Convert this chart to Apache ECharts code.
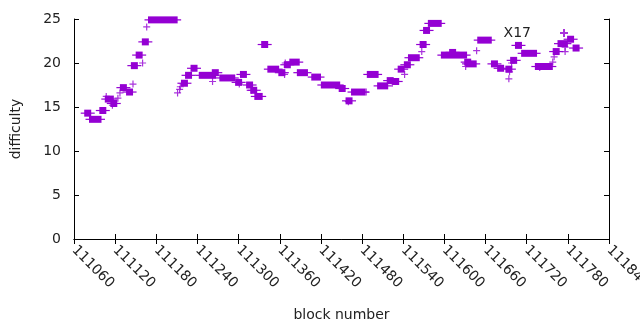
<!DOCTYPE html>
<html>
<head>
<meta charset="utf-8">
<script src="https://cdn.jsdelivr.net/npm/echarts@6/dist/echarts.min.js"></script>
<style>
  html, body { margin: 0; padding: 0; background: #fff; }
  #chart { width: 640px; height: 330px; }
</style>
</head>
<body>
<div id="chart"></div>
<script>
// runs of blocks drawn as filled squares: [first block, last block, difficulty]
var squareRuns = [
    [111080, 111080, 14.3], [111087, 111095, 13.6], [111102, 111102, 14.6],
    [111110, 111113, 15.9], [111118, 111118, 15.4], [111132, 111132, 17.2],
    [111141, 111141, 16.7], [111148, 111148, 19.7], [111155, 111155, 20.9],
    [111164, 111164, 22.4], [111173, 111206, 24.9], [111221, 111221, 17.7],
    [111227, 111227, 18.6], [111235, 111235, 19.4], [111247, 111262, 18.6],
    [111266, 111266, 18.9], [111277, 111290, 18.3], [111300, 111300, 17.8],
    [111307, 111307, 18.7], [111316, 111316, 17.5], [111322, 111322, 16.9],
    [111328, 111330, 16.2], [111338, 111338, 22.1], [111347, 111354, 19.3],
    [111363, 111363, 18.9], [111371, 111371, 19.8], [111379, 111384, 20.1],
    [111390, 111396, 18.9], [111411, 111415, 18.4], [111425, 111443, 17.5],
    [111451, 111451, 17.1], [111461, 111461, 15.7], [111469, 111480, 16.7],
    [111492, 111499, 18.7], [111507, 111513, 17.4], [111521, 111521, 18.0],
    [111529, 111529, 17.9], [111537, 111537, 19.3], [111546, 111546, 19.8],
    [111552, 111559, 20.6], [111569, 111569, 22.1], [111574, 111574, 23.7],
    [111581, 111591, 24.5], [111600, 111628, 20.9], [111612, 111612, 21.2],
    [111634, 111634, 20.1], [111636, 111642, 19.9], [111653, 111664, 22.6],
    [111673, 111673, 19.9], [111682, 111682, 19.4], [111694, 111694, 19.3],
    [111701, 111701, 20.3], [111708, 111708, 22.0], [111717, 111730, 21.1],
    [111737, 111753, 19.6], [111763, 111763, 21.3], [111770, 111775, 22.2],
    [111784, 111784, 22.7], [111792, 111792, 21.7]
];

// single blocks drawn as "+": [block, difficulty]
var plusPoints = [
    [111107, 16.2], [111116, 15.2], [111124, 16.0], [111127, 16.6],
    [111146, 17.6], [111160, 20.0], [111166, 24.1], [111211, 16.6],
    [111214, 17.0], [111215, 17.3], [111262, 17.9], [111301, 17.6],
    [111319, 16.9], [111367, 18.7], [111368, 20.0], [111460, 15.6],
    [111486, 16.7], [111524, 17.7], [111542, 18.7], [111567, 21.3],
    [111568, 22.1], [111631, 19.6], [111647, 21.4], [111694, 18.2],
    [111695, 19.0], [111698, 20.0], [111739, 19.5], [111758, 20.1],
    [111760, 20.7], [111776, 21.8], [111776, 21.3]
];

var xTicks = { min: 111060, max: 111840, step: 60 };
var yTicks = { min: 0, max: 25, step: 5 };

var purple = '#9400d3';
var font = 'DejaVu Sans';
var plusPath = 'path://M0,3.5H7M3.5,0V7';

var myChart = echarts.init(document.getElementById('chart'));

function axisCommon(extra) {
    var a = {
        axisLine: { lineStyle: { color: '#000', width: 1 } },
        axisTick: { inside: true, length: 5, lineStyle: { color: '#000' } },
        splitLine: { show: false }
    };
    for (var k in extra) a[k] = extra[k];
    return a;
}

var option = {
    animation: false,
    backgroundColor: '#fff',
    textStyle: { fontFamily: font },
    grid: { left: 74, right: 31, top: 19, bottom: 91, outerBoundsMode: 'none', containLabel: false },
    legend: {
        data: [{ name: 'X17', icon: plusPath }],
        right: 66,
        top: 21,
        align: 'right',
        itemWidth: 8,
        itemHeight: 8,
        textStyle: { fontFamily: font, fontSize: 14, color: '#222', padding: [0, 24, 0, 0] }
    },
    xAxis: [
        axisCommon({
            type: 'value', min: xTicks.min, max: xTicks.max, interval: xTicks.step,
            name: 'block number', nameLocation: 'middle', nameGap: 69,
            nameTextStyle: { fontFamily: font, fontSize: 14, color: '#222' },
            axisLabel: { rotate: -45, margin: 9, fontFamily: font, fontSize: 14, color: '#222',
                formatter: function (v) { return String(v); } }
        }),
        axisCommon({
            type: 'value', position: 'top', min: xTicks.min, max: xTicks.max, interval: xTicks.step,
            axisLabel: { show: false }
        })
    ],
    yAxis: [
        axisCommon({
            type: 'value', min: yTicks.min, max: yTicks.max, interval: yTicks.step,
            name: 'difficulty', nameLocation: 'middle', nameGap: 51,
            nameTextStyle: { fontFamily: font, fontSize: 14, color: '#222' },
            axisLabel: { margin: 13, fontFamily: font, fontSize: 14, color: '#222' }
        }),
        axisCommon({
            type: 'value', position: 'right', min: yTicks.min, max: yTicks.max, interval: yTicks.step,
            axisLabel: { show: false }
        })
    ],
    series: [
        {
            name: 'squares',
            type: 'custom',
            xAxisIndex: 0,
            yAxisIndex: 0,
            data: squareRuns,
            renderItem: function (params, api) {
                var p0 = api.coord([api.value(0), api.value(2)]);
                var p1 = api.coord([api.value(1), api.value(2)]);
                return {
                    type: 'group',
                    children: [
                        {
                            type: 'line',
                            shape: { x1: p0[0] - 7, y1: p0[1], x2: p1[0] + 7, y2: p1[1] },
                            style: { stroke: purple, lineWidth: 1.2 }
                        },
                        {
                            type: 'rect',
                            shape: { x: p0[0] - 3.5, y: p0[1] - 3.5, width: p1[0] - p0[0] + 7, height: 7 },
                            style: { fill: purple }
                        }
                    ]
                };
            }
        },
        {
            name: 'X17',
            type: 'scatter',
            xAxisIndex: 0,
            yAxisIndex: 0,
            data: plusPoints,
            symbol: plusPath,
            symbolSize: 7,
            itemStyle: { color: purple, borderColor: purple, borderWidth: 1.2 }
        }
    ]
};

myChart.setOption(option);
</script>
</body>
</html>
